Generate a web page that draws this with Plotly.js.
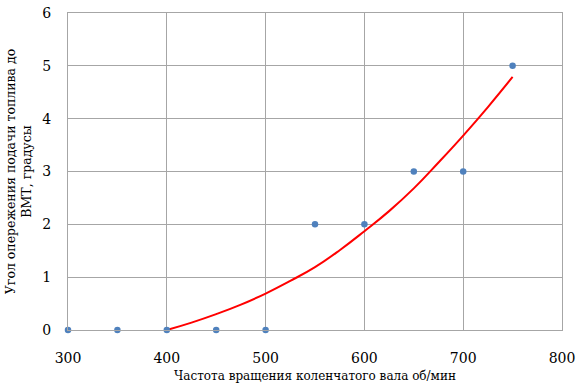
<!DOCTYPE html>
<html>
<head>
<meta charset="utf-8">
<script src="https://cdn.plot.ly/plotly-3.0.1.min.js"></script>
<style>html,body{margin:0;padding:0;background:#fff;}#chart{width:584px;height:389px;}</style>
</head>
<body>
<div id="chart"></div>
<script>
// Measured points
const rpm = [300, 350, 400, 450, 500, 550, 600, 650, 700, 750];
const angle = [0, 0, 0, 0, 0, 2, 2, 3, 3, 5];
// Trend line
const trendRpm = [400, 425, 450, 475, 500, 525, 550, 575, 600, 625, 650, 675, 700, 725, 750];
const trendAngle = [0, 0.14, 0.30, 0.48, 0.69, 0.93, 1.19, 1.51, 1.87, 2.25, 2.68, 3.17, 3.68, 4.22, 4.79];
const xTitle = 'Частота вращения коленчатого вала об/мин';
const yTitle = 'Угол опережения подачи топлива до<br>ВМТ, градусы';

const grid = '#a6a6a6';
const fam = 'DejaVu Serif';

Plotly.newPlot('chart', [
  {x: trendRpm, y: trendAngle, mode: 'lines', line: {color: '#ff0000', width: 2, shape: 'spline', smoothing: 1.3}, hoverinfo: 'skip', cliponaxis: false},
  {x: rpm, y: angle, mode: 'markers', marker: {color: '#4f81bd', size: 6.5}, cliponaxis: false}
], {
  width: 584, height: 389,
  margin: {l: 68, r: 22, t: 13, b: 59},
  showlegend: false,
  paper_bgcolor: '#fff', plot_bgcolor: '#fff',
  font: {family: fam, color: '#000'},
  xaxis: {
    range: [300, 800], dtick: 100, tick0: 300,
    showgrid: true, gridcolor: grid, gridwidth: 1,
    showline: true, linecolor: grid, linewidth: 1, mirror: true,
    zeroline: false, ticks: 'outside', ticklen: 15, tickcolor: 'rgba(0,0,0,0)',
    tickfont: {family: fam, size: 14, color: '#000'},
    title: {text: xTitle, font: {family: fam, size: 12, color: '#000'}, standoff: 6},
    automargin: false
  },
  yaxis: {
    range: [0, 6], dtick: 1,
    showgrid: true, gridcolor: grid, gridwidth: 1,
    showline: true, linecolor: grid, linewidth: 1, mirror: true,
    zeroline: false, ticks: 'outside', ticklen: 13, tickcolor: 'rgba(0,0,0,0)',
    tickfont: {family: fam, size: 14, color: '#000'},
    title: {text: yTitle, font: {family: fam, size: 12.5, color: '#000'}, standoff: 7},
    automargin: false
  }
}, {displayModeBar: false, staticPlot: true});
</script>
</body>
</html>
